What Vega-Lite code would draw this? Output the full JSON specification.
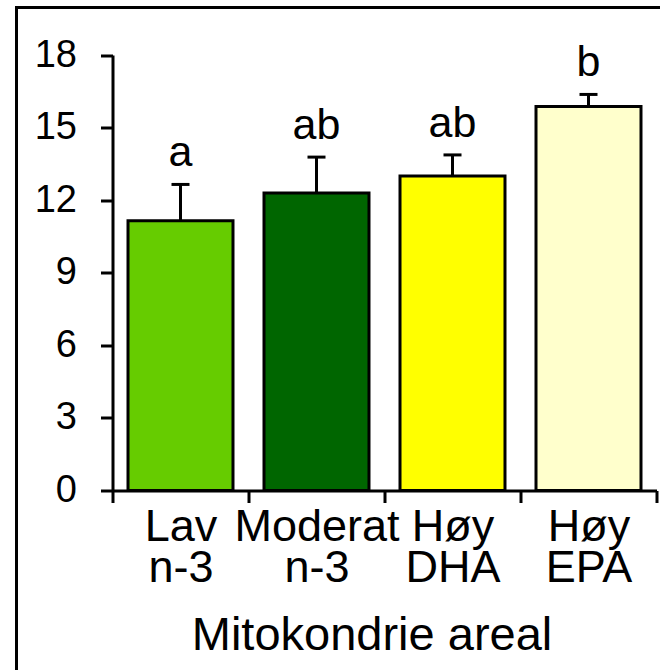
{
  "$schema": "https://vega.github.io/schema/vega-lite/v6.json",
  "autosize": {"type": "none"},
  "width": 648,
  "height": 667,
  "padding": {"left": 16.5, "top": 7.5, "right": -4.5, "bottom": -4.5},
  "background": "white",
  "config": {
    "view": {"stroke": "black", "strokeWidth": 3, "fill": "white"},
    "font": "Liberation Sans"
  },
  "data": {
    "values": [
      {"gruppe": "Lav n-3", "verdi": 11.15, "ovre": 12.65, "bokstav": "a"},
      {"gruppe": "Moderat n-3", "verdi": 12.3, "ovre": 13.78, "bokstav": "ab"},
      {"gruppe": "Høy DHA", "verdi": 13.0, "ovre": 13.87, "bokstav": "ab"},
      {"gruppe": "Høy EPA", "verdi": 15.87, "ovre": 16.37, "bokstav": "b"}
    ]
  },
  "encoding": {
    "x": {
      "field": "gruppe",
      "type": "nominal",
      "sort": null,
      "scale": {"range": [96, 640], "paddingInner": 0, "paddingOuter": 0},
      "axis": {
        "title": "Mitokondrie areal",
        "orient": "bottom",
        "offset": -184,
        "tickBand": "extent",
        "tickSize": 12,
        "tickWidth": 3,
        "tickColor": "black",
        "domainWidth": 3,
        "domainColor": "black",
        "labelAngle": 0,
        "labelFont": "Liberation Sans",
        "labelFontSize": 45,
        "labelColor": "black",
        "labelExpr": "split(datum.label, ' ')",
        "labelLineHeight": 41,
        "labelPadding": 2,
        "labelBaseline": "top",
        "labelLimit": 0,
        "labelOverlap": false,
        "labelFlush": false,
        "titleFont": "Liberation Sans",
        "titleFontSize": 47,
        "titleFontWeight": "normal",
        "titleColor": "black",
        "titlePadding": 22,
        "titleX": 355,
        "titleAlign": "center"
      }
    }
  },
  "layer": [
    {
      "mark": {"type": "rule", "strokeWidth": 3, "color": "black"},
      "encoding": {
        "y": {
          "field": "verdi",
          "type": "quantitative",
          "scale": {"domain": [0, 18], "range": [483, 47.5], "nice": false, "zero": true},
          "axis": {
            "values": [0, 3, 6, 9, 12, 15, 18],
            "title": null,
            "grid": false,
            "offset": -96,
            "domainColor": "black",
            "domainWidth": 3,
            "tickColor": "black",
            "tickWidth": 3,
            "tickSize": 12,
            "labelFont": "Liberation Sans",
            "labelFontSize": 38,
            "labelColor": "black",
            "labelPadding": 24
          }
        },
        "y2": {"field": "ovre"}
      }
    },
    {
      "mark": {"type": "tick", "thickness": 3, "size": 18, "color": "black", "opacity": 1},
      "encoding": {
        "y": {"field": "ovre", "type": "quantitative", "scale": {"domain": [0, 18], "range": [483, 47.5], "nice": false}}
      }
    },
    {
      "mark": {"type": "bar", "stroke": "black", "strokeWidth": 3, "width": {"band": 0.772}, "opacity": 1},
      "encoding": {
        "y": {"field": "verdi", "type": "quantitative", "scale": {"domain": [0, 18], "range": [483, 47.5], "nice": false}},
        "color": {
          "field": "gruppe",
          "type": "nominal",
          "scale": {"domain": ["Lav n-3", "Moderat n-3", "Høy DHA", "Høy EPA"], "range": ["#66cc00", "#006600", "#ffff00", "#ffffcc"]},
          "legend": null
        }
      }
    },
    {
      "mark": {"type": "text", "fontSize": 43, "baseline": "alphabetic", "dy": -18, "color": "black", "font": "Liberation Sans"},
      "encoding": {
        "y": {"field": "ovre", "type": "quantitative", "scale": {"domain": [0, 18], "range": [483, 47.5], "nice": false}},
        "text": {"field": "bokstav"}
      }
    }
  ]
}
